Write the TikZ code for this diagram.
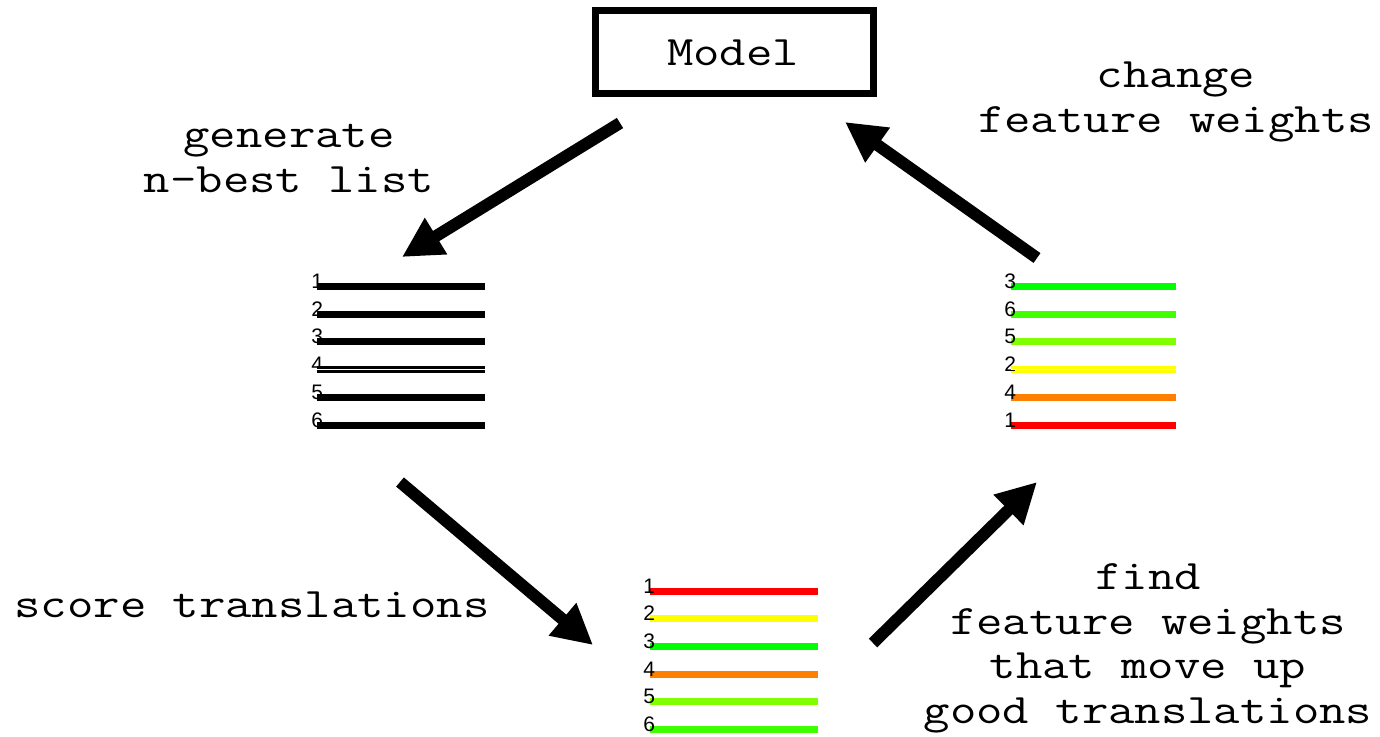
\documentclass[tikz,border=0pt]{standalone}
\usepackage{fontspec}
\setmonofont{Latin Modern Mono}[FakeStretch=1.22]
\setsansfont{Liberation Sans}
\usetikzlibrary{arrows.meta}
\definecolor{cgreen}{RGB}{0,255,0}
\definecolor{cgreentwo}{RGB}{64,255,0}
\definecolor{clime}{RGB}{128,255,0}
\definecolor{corange}{RGB}{255,128,0}
\definecolor{cyellow}{RGB}{255,255,0}
\definecolor{cred}{RGB}{255,0,0}
\begin{document}
\begin{tikzpicture}[x=0.5pt,y=-0.5pt,
  lbl/.style={font=\ttfamily\fontsize{21}{22.25}\selectfont, align=center, inner sep=0pt, anchor=base},
  num/.style={font=\sffamily\fontsize{10.5}{11}\selectfont, inner sep=0pt, anchor=base west},
  bar/.style={line width=3.5pt},
  gap/.style={white, line width=0.5pt},
  bigarrow/.style={line width=6pt, -{Triangle[length=20pt,width=20pt]}},
  modelbox/.style={draw, line width=3.5pt, inner sep=0pt, minimum width=139pt, minimum height=41.5pt}
]
\useasboundingbox (0,0) rectangle (1380,736);

% Model box
\node[modelbox] (model) at (734.5,52) {};
\node[lbl] (modeltxt) at (733,65) {Model};

% left list (black)
\foreach \n [count=\k from 0] in {1,...,6} {
  \draw[bar] (317,286.5+27.7*\k) -- (485,286.5+27.7*\k);
  \node[num] (l\n) at (311,288.5+27.7*\k) {\n};
}
\draw[gap] (317,286.5+27.7*3) -- (485,286.5+27.7*3);

% bottom list (scored)
\foreach \n/\c [count=\k from 0] in {1/cred,2/cyellow,3/cgreen,4/corange,5/clime,6/cgreentwo} {
  \draw[bar,\c] (650,591+27.7*\k) -- (818,591+27.7*\k);
  \node[num] (b\n) at (643,593+27.7*\k) {\n};
}

% right list (reranked)
\foreach \n/\c [count=\k from 0] in {3/cgreen,6/cgreentwo,5/clime,2/cyellow,4/corange,1/cred} {
  \draw[bar,\c] (1011,286.5+27.7*\k) -- (1176,286.5+27.7*\k);
  \node[num] (r\n) at (1004,288.5+27.7*\k) {\n};
}
\draw[gap] (1011,286.5+27.7*3) -- (1176,286.5+27.7*3);

% labels (anchor base = baseline of last line)
\node[lbl] (gen) at (289,192) {generate\\n-best list};
\node[lbl] (chg) at (1176,132) {change\\feature weights};
\node[lbl] (scr) at (252,617) {score translations};
\node[lbl] (fnd) at (1148,723) {find\\feature weights\\that move up\\good translations};

% arrow end points
\coordinate (a1s) at (620,123);
\coordinate (a1e) at (402,257);
\coordinate (a2s) at (400,482);
\coordinate (a2e) at (593,645);
\coordinate (a3s) at (873,643);
\coordinate (a3e) at (1037,482);
\coordinate (a4s) at (1037,258);
\coordinate (a4e) at (845,122);

\draw[bigarrow] (a1s) -- (a1e);
\draw[bigarrow] (a2s) -- (a2e);
\draw[bigarrow] (a3s) -- (a3e);
\draw[bigarrow] (a4s) -- (a4e);
\end{tikzpicture}
\end{document}
